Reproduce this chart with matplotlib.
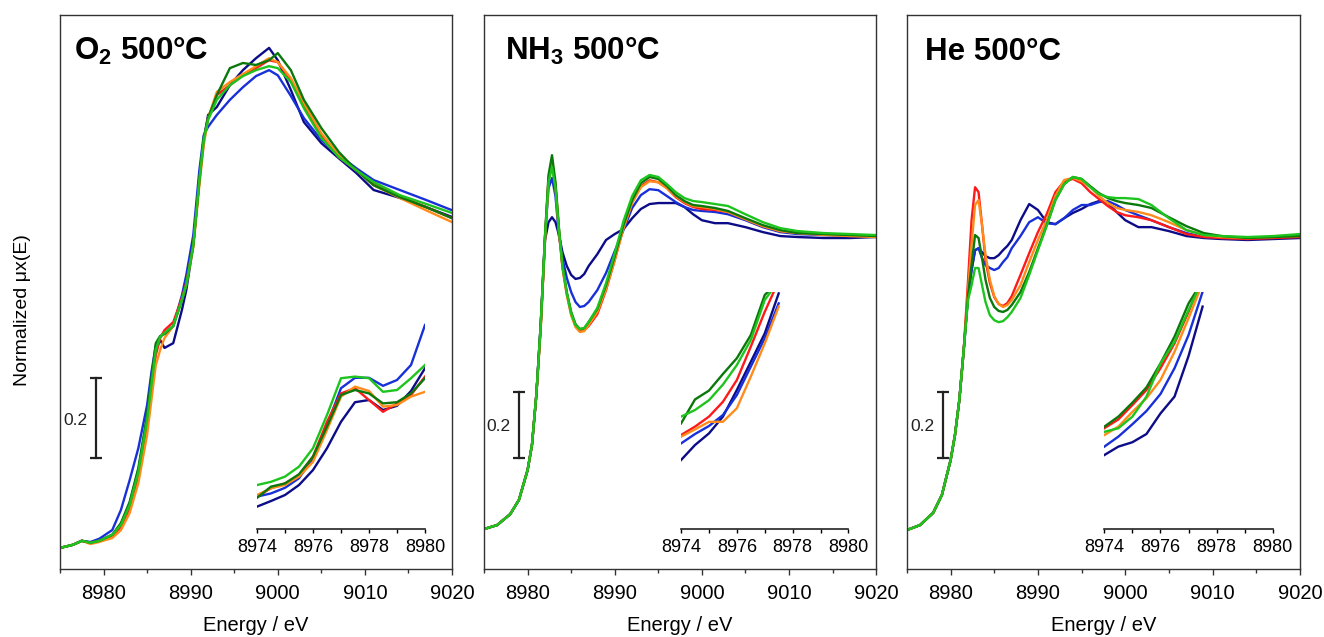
import matplotlib
matplotlib.use("Agg")
import matplotlib.pyplot as plt
from matplotlib.ticker import MultipleLocator, NullLocator

plt.rcParams['font.family'] = ['Liberation Sans', 'DejaVu Sans']
plt.rcParams['mathtext.fontset'] = 'custom'
plt.rcParams['mathtext.rm'] = 'Liberation Sans'
plt.rcParams['mathtext.bf'] = 'Liberation Sans:bold'

# ---- main spectra, O2 panel ----
E_O2 = [8975, 8976.5, 8977.5, 8978.5, 8979.5, 8981, 8982, 8983, 8984, 8985,
        8985.5, 8986, 8986.5, 8987, 8988, 8989, 8989.5, 8990.3, 8991, 8991.5,
        8992, 8993, 8994.5, 8996, 8997.5, 8999, 9000, 9001.5, 9003, 9005,
        9007, 9009, 9011, 9014, 9017, 9020]
O2_NAVY = [0.000, 0.008, 0.018, 0.013, 0.018, 0.033, 0.060, 0.113, 0.196, 0.327,
           0.416, 0.499, 0.524, 0.504, 0.516, 0.600, 0.650, 0.763, 0.927, 1.028,
           1.091, 1.111, 1.166, 1.204, 1.234, 1.260, 1.229, 1.154, 1.073, 1.020,
           0.982, 0.945, 0.902, 0.882, 0.859, 0.834]
O2_BLUE = [0.000, 0.008, 0.018, 0.015, 0.023, 0.045, 0.096, 0.171, 0.252, 0.360,
           0.443, 0.511, 0.532, 0.542, 0.559, 0.637, 0.688, 0.788, 0.952, 1.040,
           1.061, 1.091, 1.129, 1.161, 1.189, 1.204, 1.191, 1.139, 1.083, 1.028,
           0.990, 0.957, 0.927, 0.902, 0.877, 0.851]
O2_RED = [0.000, 0.008, 0.018, 0.013, 0.018, 0.030, 0.053, 0.101, 0.181, 0.310,
          0.398, 0.486, 0.529, 0.549, 0.569, 0.630, 0.668, 0.763, 0.922, 1.023,
          1.083, 1.141, 1.166, 1.191, 1.209, 1.229, 1.224, 1.179, 1.116, 1.040,
          0.985, 0.952, 0.919, 0.887, 0.859, 0.831]
O2_ORANGE = [0.000, 0.008, 0.018, 0.010, 0.015, 0.025, 0.045, 0.088, 0.164, 0.285,
             0.373, 0.461, 0.499, 0.529, 0.559, 0.625, 0.663, 0.756, 0.914, 1.015,
             1.083, 1.149, 1.174, 1.194, 1.214, 1.234, 1.224, 1.184, 1.121, 1.045,
             0.990, 0.952, 0.914, 0.882, 0.851, 0.821]
O2_DKGREEN = [0.000, 0.008, 0.018, 0.013, 0.018, 0.033, 0.063, 0.116, 0.202, 0.335,
              0.428, 0.516, 0.534, 0.539, 0.559, 0.625, 0.663, 0.763, 0.927, 1.033,
              1.083, 1.141, 1.209, 1.222, 1.217, 1.229, 1.247, 1.204, 1.129, 1.058,
              0.998, 0.952, 0.914, 0.884, 0.859, 0.831]
O2_GREEN = [0.000, 0.008, 0.018, 0.013, 0.018, 0.033, 0.058, 0.108, 0.191, 0.322,
            0.411, 0.499, 0.532, 0.542, 0.559, 0.625, 0.663, 0.763, 0.927, 1.028,
            1.078, 1.129, 1.166, 1.189, 1.204, 1.214, 1.209, 1.174, 1.108, 1.033,
            0.985, 0.952, 0.922, 0.889, 0.867, 0.844]

# ---- NH3 panel ----
E_NH3 = [8975, 8976.5, 8978, 8979, 8980, 8980.5, 8981, 8981.5, 8982, 8982.4,
         8982.8, 8983.2, 8983.6, 8984, 8984.5, 8985, 8985.5, 8986, 8986.5, 8987,
         8988, 8989, 8990, 8991, 8992, 8993, 8994, 8995, 8996, 8997,
         8998, 8999, 9000, 9001.5, 9003, 9005, 9007, 9009, 9011, 9014,
         9017, 9020]
NH3_NAVY = [0.000, 0.012, 0.045, 0.088, 0.179, 0.255, 0.406, 0.618, 0.876, 0.930,
            0.945, 0.930, 0.891, 0.839, 0.797, 0.770, 0.758, 0.761, 0.773, 0.797,
            0.833, 0.876, 0.894, 0.909, 0.942, 0.970, 0.985, 0.988, 0.988, 0.988,
            0.976, 0.954, 0.936, 0.927, 0.927, 0.915, 0.900, 0.888, 0.885, 0.882,
            0.882, 0.885]
NH3_BLUE = [0.000, 0.012, 0.045, 0.088, 0.179, 0.255, 0.406, 0.618, 0.888, 1.033,
            1.064, 1.009, 0.888, 0.821, 0.761, 0.718, 0.688, 0.673, 0.676, 0.688,
            0.724, 0.776, 0.842, 0.906, 0.973, 1.012, 1.030, 1.027, 1.009, 0.991,
            0.976, 0.967, 0.964, 0.961, 0.954, 0.936, 0.915, 0.900, 0.894, 0.891,
            0.888, 0.888]
NH3_RED = [0.000, 0.012, 0.045, 0.088, 0.179, 0.255, 0.406, 0.609, 0.882, 1.064,
           1.109, 1.039, 0.903, 0.794, 0.712, 0.651, 0.615, 0.603, 0.603, 0.615,
           0.651, 0.724, 0.815, 0.912, 0.991, 1.039, 1.057, 1.051, 1.033, 1.006,
           0.988, 0.976, 0.970, 0.967, 0.961, 0.939, 0.918, 0.903, 0.897, 0.894,
           0.888, 0.888]
NH3_ORANGE = [0.000, 0.012, 0.045, 0.088, 0.179, 0.255, 0.406, 0.603, 0.876, 1.057,
              1.118, 1.042, 0.900, 0.791, 0.709, 0.648, 0.612, 0.597, 0.600, 0.618,
              0.658, 0.727, 0.815, 0.912, 0.988, 1.036, 1.054, 1.051, 1.033, 1.009,
              0.991, 0.979, 0.976, 0.970, 0.961, 0.939, 0.918, 0.903, 0.897, 0.891,
              0.888, 0.885]
NH3_DKGREEN = [0.000, 0.012, 0.045, 0.088, 0.179, 0.255, 0.406, 0.618, 0.891, 1.073,
               1.133, 1.051, 0.912, 0.800, 0.718, 0.658, 0.621, 0.606, 0.609, 0.627,
               0.667, 0.739, 0.827, 0.921, 0.997, 1.048, 1.067, 1.061, 1.039, 1.012,
               0.994, 0.982, 0.979, 0.973, 0.964, 0.942, 0.921, 0.906, 0.897, 0.894,
               0.891, 0.888]
NH3_GREEN = [0.000, 0.012, 0.045, 0.088, 0.179, 0.255, 0.406, 0.618, 0.888, 1.051,
             1.097, 1.033, 0.906, 0.797, 0.715, 0.654, 0.618, 0.606, 0.609, 0.627,
             0.670, 0.745, 0.836, 0.933, 1.009, 1.057, 1.073, 1.067, 1.045, 1.021,
             1.003, 0.994, 0.991, 0.985, 0.979, 0.954, 0.930, 0.912, 0.903, 0.897,
             0.894, 0.891]

# ---- He panel ----
E_HE = E_NH3
HE_NAVY = [0.000, 0.015, 0.052, 0.106, 0.212, 0.288, 0.394, 0.545,
           0.712, 0.788, 0.848, 0.854, 0.842, 0.830, 0.824, 0.824, 0.833, 0.848,
           0.861, 0.879, 0.939, 0.988, 0.970, 0.933, 0.927, 0.945, 0.961, 0.973,
           0.988, 0.997, 0.991, 0.964, 0.939, 0.918, 0.918, 0.906, 0.891, 0.885,
           0.882, 0.879, 0.882, 0.885]
HE_BLUE = [0.000, 0.015, 0.052, 0.106, 0.212, 0.288, 0.394, 0.545,
           0.712, 0.788, 0.848, 0.854, 0.824, 0.803, 0.794, 0.788, 0.794, 0.812,
           0.827, 0.854, 0.891, 0.933, 0.948, 0.930, 0.927, 0.945, 0.970, 0.985,
           0.985, 0.994, 0.997, 0.985, 0.970, 0.954, 0.939, 0.918, 0.900, 0.888,
           0.885, 0.885, 0.888, 0.891]
HE_RED = [0.000, 0.015, 0.052, 0.106, 0.212, 0.288, 0.394, 0.545,
          0.758, 0.939, 1.039, 1.024, 0.924, 0.818, 0.748, 0.706, 0.685, 0.679,
          0.688, 0.709, 0.773, 0.839, 0.903, 0.957, 1.024, 1.057, 1.064, 1.051,
          1.024, 1.003, 0.982, 0.964, 0.954, 0.948, 0.939, 0.918, 0.897, 0.888,
          0.885, 0.882, 0.885, 0.888]
HE_ORANGE = [0.000, 0.015, 0.052, 0.106, 0.212, 0.288, 0.394, 0.545,
             0.727, 0.864, 0.985, 1.000, 0.924, 0.833, 0.758, 0.709, 0.685, 0.676,
             0.682, 0.697, 0.742, 0.812, 0.879, 0.939, 1.012, 1.061, 1.067, 1.057,
             1.039, 1.012, 0.991, 0.976, 0.970, 0.964, 0.954, 0.933, 0.909, 0.894,
             0.888, 0.885, 0.888, 0.891]
HE_DKGREEN = [0.000, 0.015, 0.052, 0.106, 0.212, 0.288, 0.394, 0.545,
              0.712, 0.803, 0.894, 0.885, 0.824, 0.758, 0.703, 0.676, 0.664, 0.661,
              0.667, 0.682, 0.721, 0.782, 0.854, 0.924, 1.000, 1.048, 1.070, 1.064,
              1.042, 1.021, 1.006, 0.997, 0.991, 0.985, 0.976, 0.948, 0.921, 0.900,
              0.891, 0.885, 0.888, 0.891]
HE_GREEN = [0.000, 0.015, 0.052, 0.106, 0.212, 0.288, 0.394, 0.545,
            0.697, 0.742, 0.794, 0.794, 0.742, 0.691, 0.651, 0.636, 0.630, 0.633,
            0.645, 0.661, 0.703, 0.773, 0.848, 0.921, 1.000, 1.048, 1.070, 1.064,
            1.039, 1.018, 1.009, 1.006, 1.006, 1.003, 0.985, 0.945, 0.909, 0.894,
            0.891, 0.888, 0.891, 0.897]

# ---- pre-edge insets (units of 1e-3) ----
E_IN_O2 = [8974, 8974.5, 8975, 8975.5, 8976, 8976.5, 8977, 8977.5, 8978, 8978.5,
           8979, 8979.5, 8980]
IN_O2_NAVY = [5.6, 7.0, 8.5, 11.0, 14.75, 20.2, 26.8, 31.7, 32.25, 29.75, 30.8, 34.5, 40.2]
IN_O2_BLUE = [8.1, 8.9, 10.3, 12.7, 17.7, 26.0, 35.2, 37.8, 37.8, 35.8, 37.25, 41.0, 51.0]
IN_O2_RED = [8.1, 10.2, 11.4, 13.5, 18.1, 26.8, 33.9, 35.2, 32.25, 29.3, 31.4, 33.5, 38.1]
IN_O2_ORANGE = [8.5, 10.2, 11.0, 13.1, 16.8, 24.75, 33.1, 35.6, 34.5, 30.6, 31.0, 33.1, 34.3]
IN_O2_DKGREEN = [7.8, 10.6, 11.4, 13.7, 18.1, 25.6, 33.5, 34.75, 33.9, 31.4, 31.7, 33.9, 37.7]
IN_O2_GREEN = [11.0, 11.8, 13.1, 15.6, 20.2, 28.5, 37.7, 38.1, 37.7, 34.3, 34.75, 37.7, 41.0]

E_IN = [8974, 8974.5, 8975, 8975.5, 8976, 8976.5, 8977, 8977.5]
IN_NH3_NAVY = [17.25, 21.0, 23.9, 28.1, 34.75, 41.8, 48.9, 58.9]
IN_NH3_BLUE = [21.4, 23.75, 25.75, 28.5, 33.5, 40.6, 47.7, 56.4]
IN_NH3_RED = [23.5, 25.6, 28.1, 31.8, 37.25, 45.6, 54.3, 62.0]
IN_NH3_ORANGE = [23.1, 24.9, 26.8, 26.8, 30.2, 38.1, 46.4, 55.6]
IN_NH3_DKGREEN = [26.4, 32.4, 34.6, 38.75, 42.7, 48.5, 58.5, 62.0]
IN_NH3_GREEN = [28.1, 29.75, 32.2, 36.1, 41.0, 47.25, 57.25, 62.0]

IN_HE_NAVY = [18.5, 20.6, 21.7, 23.75, 28.9, 33.1, 43.25, 55.6]
IN_HE_BLUE = [20.6, 23.1, 26.2, 29.5, 33.75, 40.2, 48.5, 59.3]
IN_HE_RED = [25.2, 27.4, 31.0, 34.75, 40.2, 46.4, 54.3, 63.0]
IN_HE_ORANGE = [23.5, 25.6, 29.3, 32.7, 37.25, 44.3, 52.7, 61.4]
IN_HE_DKGREEN = [25.6, 28.1, 31.6, 35.4, 41.4, 48.1, 56.4, 62.0]
IN_HE_GREEN = [24.3, 25.2, 28.1, 33.1, 41.4, 46.8, 54.75, 62.25]

COLORS = ['#0c0c88', '#1830d8', '#ff1a1a', '#ff8c1a', '#0b780b', '#1ec41e']
TITLES = [r'O$_\mathbf{2}$ 500°C', r'NH$_\mathbf{3}$ 500°C', 'He 500°C']

panels = [
    (E_O2, [O2_NAVY, O2_BLUE, O2_RED, O2_ORANGE, O2_DKGREEN, O2_GREEN]),
    (E_NH3, [NH3_NAVY, NH3_BLUE, NH3_RED, NH3_ORANGE, NH3_DKGREEN, NH3_GREEN]),
    (E_HE, [HE_NAVY, HE_BLUE, HE_RED, HE_ORANGE, HE_DKGREEN, HE_GREEN]),
]
insets = [
    (E_IN_O2, [IN_O2_NAVY, IN_O2_BLUE, IN_O2_RED, IN_O2_ORANGE, IN_O2_DKGREEN, IN_O2_GREEN]),
    (E_IN, [IN_NH3_NAVY, IN_NH3_BLUE, IN_NH3_RED, IN_NH3_ORANGE, IN_NH3_DKGREEN, IN_NH3_GREEN]),
    (E_IN, [IN_HE_NAVY, IN_HE_BLUE, IN_HE_RED, IN_HE_ORANGE, IN_HE_DKGREEN, IN_HE_GREEN]),
]

# layout in figure fractions
main_left = [0.0453, 0.3656, 0.6850]
main_width = [0.2961, 0.2961, 0.2968]
ylims = [(-0.053, 1.343), (-0.121, 1.558), (-0.118, 1.561)]
title_x = [0.036, 0.053, 0.047]
inset_left = [0.1941, 0.5144, 0.8341]
inset_width = [0.1269, 0.1264, 0.1272]
# scale bar (x, y0, y1) and label (x, y) in data coords
bars = [(8979.16, 0.2275, 0.4275), (8979.04, 0.216, 0.416), (8979.12, 0.219, 0.419)]
bar_lbl = [(8976.75, 0.322), (8976.6, 0.31), (8976.8, 0.313)]

spine_col = '#333333'
fig = plt.figure(figsize=(13.24, 6.37), dpi=100)

for i in range(3):
    ax = fig.add_axes([main_left[i], 0.1068, main_width[i], 0.8697])
    E, series = panels[i]
    for vals, c in zip(series, COLORS):
        ax.plot(E, vals, color=c, lw=1.7)
    ax.set_xlim(8975, 9020)
    ax.set_ylim(*ylims[i])
    ax.xaxis.set_major_locator(MultipleLocator(10))
    ax.xaxis.set_minor_locator(MultipleLocator(5))
    ax.yaxis.set_major_locator(NullLocator())
    ax.tick_params(axis='x', which='major', direction='out', length=4.5, width=1,
                   labelsize=14.5, pad=6, color=spine_col)
    ax.tick_params(axis='x', which='minor', direction='out', length=3, width=1,
                   color=spine_col)
    for s in ax.spines.values():
        s.set_color(spine_col)
        s.set_linewidth(1)
    ax.set_xlabel('Energy / eV', fontsize=14.5, labelpad=10)
    ax.text(title_x[i], 0.919, TITLES[i], transform=ax.transAxes, fontsize=22.5,
            fontweight='bold', va='baseline', ha='left')
    bx, by0, by1 = bars[i]
    ax.plot([bx, bx], [by0, by1], color='#222222', lw=1.6, marker='_',
            markersize=8, mew=1.6)
    ax.text(bar_lbl[i][0], bar_lbl[i][1], '0.2', ha='center', va='center',
            fontsize=12.5, color='#222222')

    axi = fig.add_axes([inset_left[i], 0.1695, inset_width[i], 0.3721])
    axi.patch.set_alpha(0)
    Ei, iseries = insets[i]
    for vals, c in zip(iseries, COLORS):
        axi.plot(Ei, vals, color=c, lw=1.7)
    axi.set_xlim(8974, 8980)
    axi.set_ylim(0, 59.25)
    for side in ['top', 'left', 'right']:
        axi.spines[side].set_visible(False)
    axi.spines['bottom'].set_color('#222222')
    axi.spines['bottom'].set_linewidth(1.2)
    axi.xaxis.set_major_locator(MultipleLocator(2))
    axi.xaxis.set_minor_locator(MultipleLocator(1))
    axi.yaxis.set_major_locator(NullLocator())
    axi.tick_params(axis='x', which='major', direction='out', length=3, width=1,
                    labelsize=13, pad=4)
    axi.tick_params(axis='x', which='minor', direction='out', length=3, width=1)

fig.text(0.017, 0.513, 'Normalized μx(E)', rotation=90, ha='center', va='center',
         fontsize=14)

fig.savefig('out.png', dpi=100)
